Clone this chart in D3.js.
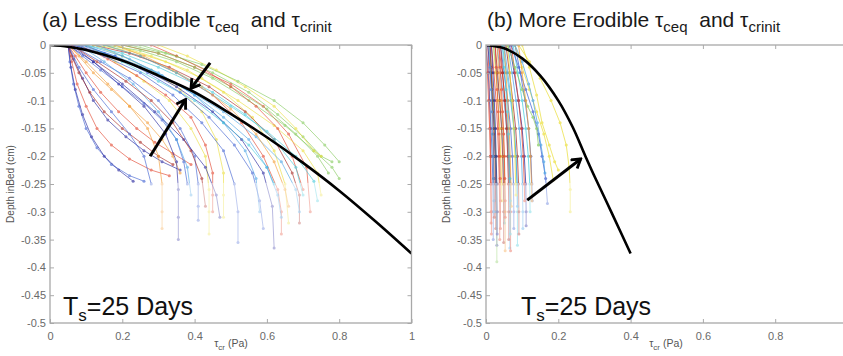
<!DOCTYPE html>
<html>
<head>
<meta charset="utf-8">
<script src="https://cdn.jsdelivr.net/npm/d3@7"></script>
<style>
  body { margin: 0; background: #fff; }
  svg { display: block; font-family: "Liberation Sans", Arial, sans-serif; }
</style>
</head>
<body>
<svg id="chart" width="843" height="356"></svg>
<script>
// tick values
const depthTicks = [0, -0.05, -0.1, -0.15, -0.2, -0.25, -0.3, -0.35, -0.4, -0.45, -0.5];
const tauTicks = [0, 0.2, 0.4, 0.6, 0.8, 1];

// (a) less erodible: profiles [tau, depth], colour index per profile
const lessCurves = [
  [[0.05,0],[0.055,-0.03],[0.065,-0.07],[0.08,-0.11],[0.1,-0.15],[0.13,-0.185],[0.17,-0.215],[0.22,-0.235],[0.26,-0.245]],
  [[0.05,0],[0.06,-0.03],[0.075,-0.07],[0.1,-0.11],[0.13,-0.15],[0.17,-0.18],[0.22,-0.205],[0.28,-0.225],[0.33,-0.235]],
  [[0.05,0],[0.065,-0.025],[0.09,-0.06],[0.12,-0.1],[0.16,-0.135],[0.21,-0.165],[0.26,-0.19],[0.31,-0.21],[0.36,-0.225]],
  [[0.05,0],[0.07,-0.02],[0.1,-0.05],[0.14,-0.085],[0.19,-0.12],[0.24,-0.15],[0.29,-0.175],[0.34,-0.195],[0.39,-0.215]],
  [[0.05,0],[0.058,-0.04],[0.07,-0.08],[0.09,-0.125],[0.115,-0.165],[0.15,-0.2],[0.19,-0.225],[0.23,-0.245]],
  [[0.05,0],[0.08,-0.02],[0.12,-0.05],[0.17,-0.08],[0.22,-0.11],[0.27,-0.14],[0.31,-0.17],[0.34,-0.2],[0.36,-0.23]],
  [[0.05,0],[0.09,-0.02],[0.14,-0.045],[0.2,-0.075],[0.26,-0.105],[0.31,-0.135],[0.35,-0.17],[0.37,-0.21],[0.38,-0.25]],
  [[0.05,0],[0.06,-0.02],[0.08,-0.05],[0.11,-0.085],[0.15,-0.12],[0.2,-0.15],[0.25,-0.175],[0.3,-0.2],[0.34,-0.215]],
  [[0.05,0],[0.1,-0.03],[0.16,-0.07],[0.22,-0.11],[0.27,-0.15],[0.3,-0.2],[0.31,-0.25],[0.31,-0.3],[0.31,-0.33]],
  [[0.06,0],[0.12,-0.03],[0.19,-0.07],[0.26,-0.11],[0.32,-0.16],[0.35,-0.21],[0.355,-0.26],[0.355,-0.31],[0.355,-0.35]],
  [[0.06,0],[0.14,-0.03],[0.22,-0.06],[0.3,-0.1],[0.36,-0.15],[0.4,-0.2],[0.41,-0.25],[0.41,-0.29],[0.41,-0.315]],
  [[0.1,0],[0.18,-0.03],[0.26,-0.065],[0.33,-0.1],[0.39,-0.15],[0.43,-0.2],[0.44,-0.26],[0.44,-0.3],[0.44,-0.34]],
  [[0.08,0],[0.16,-0.025],[0.24,-0.055],[0.32,-0.09],[0.39,-0.13],[0.43,-0.18],[0.45,-0.23],[0.45,-0.27],[0.45,-0.3]],
  [[0.12,0],[0.2,-0.02],[0.28,-0.045],[0.36,-0.08],[0.42,-0.12],[0.46,-0.17],[0.48,-0.23],[0.48,-0.27],[0.48,-0.31]],
  [[0.07,0],[0.15,-0.02],[0.25,-0.05],[0.34,-0.09],[0.42,-0.14],[0.48,-0.19],[0.51,-0.25],[0.52,-0.3],[0.52,-0.355]],
  [[0.1,0],[0.2,-0.02],[0.3,-0.05],[0.4,-0.09],[0.48,-0.14],[0.54,-0.19],[0.57,-0.24],[0.58,-0.3]],
  [[0.06,0],[0.15,-0.015],[0.25,-0.04],[0.35,-0.075],[0.45,-0.12],[0.53,-0.17],[0.59,-0.23],[0.615,-0.29],[0.62,-0.365]],
  [[0.15,0],[0.25,-0.02],[0.35,-0.05],[0.45,-0.09],[0.53,-0.14],[0.59,-0.2],[0.63,-0.26],[0.64,-0.3],[0.64,-0.34]],
  [[0.18,0],[0.28,-0.02],[0.38,-0.045],[0.48,-0.085],[0.56,-0.13],[0.62,-0.19],[0.65,-0.25],[0.66,-0.32]],
  [[0.12,0],[0.22,-0.015],[0.33,-0.04],[0.44,-0.075],[0.54,-0.12],[0.62,-0.17],[0.67,-0.23],[0.69,-0.27],[0.69,-0.32]],
  [[0.2,0],[0.3,-0.015],[0.4,-0.04],[0.5,-0.07],[0.59,-0.11],[0.66,-0.16],[0.71,-0.22],[0.72,-0.3]],
  [[0.05,0],[0.08,-0.04],[0.12,-0.08],[0.17,-0.12],[0.22,-0.16],[0.26,-0.2],[0.28,-0.25]],
  [[0.08,0],[0.15,-0.03],[0.23,-0.07],[0.3,-0.12],[0.35,-0.17],[0.38,-0.22],[0.39,-0.27]],
  [[0.05,0],[0.12,-0.03],[0.2,-0.07],[0.29,-0.12],[0.37,-0.17],[0.43,-0.22],[0.46,-0.27],[0.47,-0.31]],
  [[0.1,0],[0.2,-0.03],[0.3,-0.065],[0.4,-0.1],[0.48,-0.14],[0.55,-0.18],[0.6,-0.22],[0.62,-0.25]],
  [[0.15,0],[0.25,-0.01],[0.35,-0.03],[0.45,-0.06],[0.55,-0.1],[0.65,-0.145],[0.73,-0.19],[0.78,-0.22],[0.8,-0.24]],
  [[0.2,0],[0.3,-0.015],[0.4,-0.04],[0.5,-0.075],[0.6,-0.115],[0.68,-0.16],[0.74,-0.2],[0.77,-0.23]],
  [[0.12,0],[0.22,-0.01],[0.32,-0.03],[0.42,-0.06],[0.52,-0.1],[0.62,-0.145],[0.7,-0.19],[0.74,-0.23],[0.75,-0.27]],
  [[0.1,0],[0.2,-0.015],[0.3,-0.04],[0.4,-0.07],[0.5,-0.11],[0.6,-0.155],[0.68,-0.2],[0.73,-0.245],[0.74,-0.28]],
  [[0.08,0],[0.18,-0.02],[0.28,-0.045],[0.38,-0.08],[0.48,-0.12],[0.57,-0.165],[0.64,-0.21],[0.68,-0.26],[0.69,-0.3]],
  [[0.25,0],[0.35,-0.02],[0.45,-0.05],[0.55,-0.085],[0.63,-0.125],[0.7,-0.165],[0.75,-0.2],[0.78,-0.21]],
  [[0.28,0],[0.35,-0.02],[0.43,-0.045],[0.5,-0.075],[0.57,-0.11],[0.63,-0.15],[0.67,-0.2],[0.7,-0.26]],
  [[0.3,0],[0.38,-0.02],[0.46,-0.045],[0.54,-0.075],[0.62,-0.11],[0.68,-0.15],[0.73,-0.19],[0.75,-0.2]],
  [[0.18,0],[0.26,-0.02],[0.34,-0.045],[0.42,-0.075],[0.5,-0.115],[0.57,-0.16],[0.62,-0.21],[0.65,-0.26],[0.66,-0.29]],
  [[0.15,0],[0.25,-0.02],[0.35,-0.05],[0.45,-0.085],[0.54,-0.125],[0.62,-0.17],[0.68,-0.22],[0.7,-0.27]],
  [[0.09,0],[0.18,-0.02],[0.27,-0.05],[0.36,-0.085],[0.44,-0.13],[0.51,-0.18],[0.56,-0.23],[0.58,-0.28],[0.59,-0.33]],
  [[0.22,0],[0.32,-0.015],[0.42,-0.035],[0.52,-0.065],[0.62,-0.1],[0.7,-0.14],[0.76,-0.18],[0.8,-0.21]],
  [[0.13,0],[0.22,-0.025],[0.31,-0.055],[0.4,-0.09],[0.48,-0.13],[0.55,-0.17],[0.6,-0.22],[0.63,-0.27],[0.64,-0.31]],
  [[0.06,0],[0.13,-0.03],[0.21,-0.065],[0.28,-0.1],[0.34,-0.14],[0.39,-0.19],[0.42,-0.24],[0.43,-0.29]]
];
const lessColours = [1,7,0,7,0,6,1,8,6,0,1,5,7,5,1,2,0,7,5,8,7,1,2,0,3,4,4,5,3,2,4,7,5,6,3,1,4,2,8];

// (b) more erodible
const moreCurves = [
  [[0.005,0],[0.008,-0.05],[0.01,-0.1],[0.012,-0.15],[0.013,-0.2],[0.014,-0.25],[0.015,-0.3],[0.015,-0.34]],
  [[0.01,0],[0.015,-0.05],[0.02,-0.1],[0.023,-0.15],[0.025,-0.2],[0.026,-0.25],[0.027,-0.3],[0.027,-0.33]],
  [[0,0],[0.006,-0.05],[0.01,-0.1],[0.014,-0.15],[0.017,-0.2],[0.019,-0.25],[0.02,-0.3],[0.02,-0.35]],
  [[0.015,0],[0.022,-0.05],[0.028,-0.1],[0.032,-0.15],[0.035,-0.2],[0.037,-0.25],[0.038,-0.3],[0.038,-0.35]],
  [[0.02,0],[0.03,-0.05],[0.038,-0.1],[0.044,-0.15],[0.048,-0.2],[0.05,-0.25],[0.051,-0.3],[0.051,-0.32]],
  [[0.005,0],[0.012,-0.05],[0.018,-0.1],[0.023,-0.15],[0.026,-0.2],[0.028,-0.25],[0.029,-0.3],[0.03,-0.36]],
  [[0.025,0],[0.032,-0.05],[0.038,-0.1],[0.043,-0.15],[0.046,-0.2],[0.048,-0.25],[0.049,-0.3],[0.049,-0.355]],
  [[0.03,0],[0.04,-0.05],[0.05,-0.1],[0.057,-0.15],[0.062,-0.2],[0.065,-0.25],[0.066,-0.3],[0.066,-0.365]],
  [[0.035,0],[0.045,-0.05],[0.053,-0.1],[0.06,-0.15],[0.064,-0.2],[0.067,-0.25],[0.068,-0.3],[0.068,-0.37]],
  [[0.04,0],[0.05,-0.05],[0.06,-0.1],[0.068,-0.15],[0.073,-0.2],[0.076,-0.25],[0.077,-0.3],[0.077,-0.33]],
  [[0.045,0],[0.057,-0.05],[0.068,-0.1],[0.077,-0.15],[0.083,-0.2],[0.086,-0.25],[0.087,-0.3],[0.087,-0.36]],
  [[0.02,0],[0.027,-0.05],[0.033,-0.1],[0.038,-0.15],[0.041,-0.2],[0.043,-0.25],[0.044,-0.28]],
  [[0.05,0],[0.055,-0.05],[0.06,-0.1],[0.064,-0.15],[0.067,-0.2],[0.069,-0.25],[0.07,-0.29]],
  [[0.055,0],[0.065,-0.05],[0.074,-0.1],[0.082,-0.15],[0.087,-0.2],[0.09,-0.25],[0.091,-0.3],[0.091,-0.34]],
  [[0.06,0],[0.072,-0.05],[0.083,-0.1],[0.092,-0.15],[0.098,-0.2],[0.101,-0.25],[0.102,-0.3],[0.102,-0.33]],
  [[0.065,0],[0.078,-0.05],[0.09,-0.1],[0.1,-0.15],[0.106,-0.2],[0.11,-0.25],[0.111,-0.3],[0.111,-0.325]],
  [[0.01,0],[0.015,-0.05],[0.02,-0.1],[0.024,-0.15],[0.027,-0.2],[0.029,-0.25],[0.03,-0.3],[0.03,-0.39]],
  [[0.07,0],[0.08,-0.05],[0.09,-0.1],[0.098,-0.15],[0.103,-0.2],[0.106,-0.25],[0.107,-0.28]],
  [[0.075,0],[0.088,-0.05],[0.1,-0.1],[0.11,-0.15],[0.117,-0.2],[0.121,-0.25],[0.122,-0.3]],
  [[0.08,0],[0.095,-0.05],[0.108,-0.1],[0.118,-0.15],[0.124,-0.2],[0.127,-0.25],[0.128,-0.28]],
  [[0,0],[0.004,-0.05],[0.007,-0.1],[0.01,-0.15],[0.012,-0.2],[0.013,-0.25],[0.014,-0.3],[0.014,-0.32]],
  [[0.03,0],[0.036,-0.05],[0.042,-0.1],[0.047,-0.15],[0.05,-0.2],[0.052,-0.25],[0.053,-0.3],[0.053,-0.37]],
  [[0.05,0],[0.06,-0.05],[0.07,-0.1],[0.078,-0.15],[0.083,-0.2],[0.086,-0.25],[0.087,-0.29]],
  [[0.04,0],[0.046,-0.05],[0.052,-0.1],[0.057,-0.15],[0.06,-0.2],[0.062,-0.25],[0.063,-0.3],[0.063,-0.35]],
  [[0.06,0],[0.066,-0.05],[0.072,-0.1],[0.077,-0.15],[0.08,-0.2],[0.082,-0.25],[0.083,-0.27]],
  [[0.015,0],[0.019,-0.05],[0.023,-0.1],[0.026,-0.15],[0.028,-0.2],[0.03,-0.25],[0.031,-0.3],[0.031,-0.34]],
  [[0.09,0],[0.12,-0.03],[0.15,-0.06],[0.18,-0.1],[0.205,-0.14],[0.222,-0.18],[0.23,-0.22],[0.233,-0.26],[0.233,-0.3]],
  [[0.1,0],[0.12,-0.04],[0.14,-0.09],[0.155,-0.14],[0.175,-0.18],[0.19,-0.21],[0.2,-0.225]],
  [[0.08,0],[0.1,-0.04],[0.12,-0.08],[0.14,-0.12],[0.16,-0.16],[0.175,-0.2],[0.186,-0.243]],
  [[0.07,0],[0.09,-0.04],[0.11,-0.08],[0.13,-0.12],[0.145,-0.16],[0.155,-0.2],[0.165,-0.24],[0.17,-0.285]],
  [[0.08,0],[0.1,-0.03],[0.118,-0.07],[0.13,-0.1],[0.142,-0.14],[0.152,-0.18],[0.16,-0.21],[0.163,-0.23]],
  [[0.06,0],[0.08,-0.04],[0.1,-0.08],[0.115,-0.11],[0.13,-0.13],[0.14,-0.15],[0.145,-0.18]],
  [[0.09,0],[0.1,-0.05],[0.11,-0.1],[0.118,-0.15],[0.123,-0.2],[0.126,-0.25],[0.127,-0.28]],
  [[0.012,0],[0.014,-0.04],[0.016,-0.08],[0.018,-0.12],[0.02,-0.16],[0.021,-0.2],[0.022,-0.24],[0.023,-0.28],[0.023,-0.31]],
  [[0.025,0],[0.028,-0.04],[0.031,-0.08],[0.034,-0.12],[0.036,-0.16],[0.038,-0.2],[0.039,-0.24],[0.04,-0.28],[0.04,-0.33]],
  [[0.008,0],[0.011,-0.04],[0.014,-0.08],[0.016,-0.12],[0.018,-0.16],[0.02,-0.2],[0.021,-0.24],[0.022,-0.28],[0.022,-0.3]],
  [[0.035,0],[0.039,-0.04],[0.043,-0.08],[0.046,-0.12],[0.049,-0.16],[0.051,-0.2],[0.052,-0.24],[0.053,-0.28],[0.053,-0.31]],
  [[0.045,0],[0.05,-0.04],[0.055,-0.08],[0.059,-0.12],[0.062,-0.16],[0.064,-0.2],[0.066,-0.24],[0.067,-0.28],[0.067,-0.34]]
];
const moreColours = [7,8,1,7,3,0,8,2,7,1,3,5,6,8,2,0,4,7,3,1,7,6,2,8,5,0,5,5,5,1,2,4,6,8,7,2,7,3];

// black boundary curves and arrows
const lessBoundary = [[0,0],[0.05,-0.003],[0.1,-0.009],[0.2,-0.028],[0.3,-0.055],[0.4,-0.085],[0.5,-0.124],[0.6,-0.166],[0.7,-0.212],[0.8,-0.262],[0.9,-0.317],[1,-0.375]];
const moreBoundary = [[0,0],[0.05,-0.006],[0.1,-0.024],[0.15,-0.055],[0.2,-0.1],[0.24,-0.148],[0.275,-0.2],[0.3,-0.236],[0.35,-0.305],[0.4,-0.375]];
const lessArrows = [[[0.443,-0.032],[0.39,-0.078]], [[0.277,-0.2],[0.375,-0.098]]];
const moreArrows = [[[0.114,-0.279],[0.262,-0.205]]];

const jet = ["#23239e","#3d5fd2","#4aa4e6","#44cbdc","#84cb5c","#ece03c","#f49c34","#e3432c","#a8241e"];

const svg = d3.select("#chart");

svg.append("defs").append("marker")
  .attr("id", "ah")
  .attr("viewBox", "0 0 12 12")
  .attr("refX", 10).attr("refY", 6)
  .attr("markerWidth", 13).attr("markerHeight", 13)
  .attr("markerUnits", "userSpaceOnUse")
  .attr("orient", "auto")
  .append("path")
  .attr("d", "M2,1 L10,6 L2,11")
  .attr("fill", "none")
  .attr("stroke", "#000")
  .attr("stroke-width", 2.6);

function drawPanel(p) {
  const x = d3.scaleLinear().domain([0, 1]).range([p.left, p.left + 361.5]);
  const y = d3.scaleLinear().domain([-0.5, 0]).range([323, 45]);
  const g = svg.append("g");

  g.append("clipPath").attr("id", p.id + "-clip")
    .append("rect")
    .attr("x", x(0)).attr("y", y(0))
    .attr("width", x(1) - x(0)).attr("height", y(-0.5) - y(0));

  const plot = g.append("g").attr("clip-path", `url(#${p.id}-clip)`);

  const line = d3.line().x(d => x(d[0])).y(d => y(d[1]));

  p.curves.forEach((c, i) => {
    const col = jet[p.colours[i]];
    const s = plot.append("g").attr("opacity", p.alpha);
    s.append("path").attr("d", line(c))
      .attr("fill", "none").attr("stroke", col).attr("stroke-width", 1);
    s.selectAll("circle").data(c).join("circle")
      .attr("cx", d => x(d[0])).attr("cy", d => y(d[1]))
      .attr("r", 1.5).attr("fill", col);
  });

  // faded box behind the label
  plot.append("rect")
    .attr("x", x(p.box[0])).attr("y", y(-0.248))
    .attr("width", x(p.box[1]) - x(p.box[0])).attr("height", y(-0.5) - y(-0.248))
    .attr("fill", "#fff").attr("opacity", 0.5);

  plot.append("path")
    .attr("d", d3.line().x(d => x(d[0])).y(d => y(d[1])).curve(d3.curveCatmullRom.alpha(0.5))(p.boundary))
    .attr("fill", "none").attr("stroke", "#000").attr("stroke-width", 2.6);

  p.arrows.forEach(a => {
    g.append("line")
      .attr("x1", x(a[0][0])).attr("y1", y(a[0][1]))
      .attr("x2", x(a[1][0])).attr("y2", y(a[1][1]))
      .attr("stroke", "#000").attr("stroke-width", 3)
      .attr("marker-end", "url(#ah)");
  });

  // axes, ticks inward
  const axes = [
    d3.axisLeft(y).tickValues(depthTicks).tickFormat(d => d === 0 ? "0" : String(d)).tickSize(-4).tickPadding(4),
    d3.axisRight(y).tickValues(depthTicks).tickFormat("").tickSize(-4),
    d3.axisTop(x).tickValues(tauTicks).tickFormat("").tickSize(-4),
    d3.axisBottom(x).tickValues(tauTicks).tickFormat(d => d > p.maxLabel ? "" : d3.format("")(d)).tickSize(-4).tickPadding(9)
  ];
  const pos = [`translate(${x(0)},0)`, `translate(${x(1)},0)`, `translate(0,${y(0)})`, `translate(0,${y(-0.5)})`];
  axes.forEach((ax, i) => {
    const a = g.append("g").attr("transform", pos[i]).call(ax);
    a.select(".domain").remove();
    a.selectAll("line").attr("stroke", "#aaa");
    a.selectAll("text").attr("fill", "#6a6a6a").style("font-size", "11px")
      .style("font-family", "'Liberation Sans', Arial, sans-serif");
  });

  g.append("rect")
    .attr("x", x(0)).attr("y", y(0))
    .attr("width", x(1) - x(0)).attr("height", y(-0.5) - y(0))
    .attr("fill", "none").attr("stroke", "#a8a8a8").attr("stroke-width", 1.3);

  // title
  const t = g.append("text").attr("x", p.titleX).attr("y", 27)
    .attr("fill", "#1a1a1a").style("font-size", "21px");
  t.append("tspan").text(p.title + " \u03c4");
  t.append("tspan").attr("dy", 5).style("font-size", "15px").text("ceq");
  t.append("tspan").attr("dy", -5).text("\u00a0\u00a0and \u03c4");
  t.append("tspan").attr("dy", 5).style("font-size", "15px").text("crinit");

  // Ts label
  const ts = g.append("text").attr("x", p.tsX).attr("y", 315)
    .attr("fill", "#111").style("font-size", "25px");
  ts.append("tspan").text("T");
  ts.append("tspan").attr("dy", 6).style("font-size", "17px").text("s");
  ts.append("tspan").attr("dy", -6).text("=25 Days");

  // x label
  const xl = g.append("text").attr("x", p.xLabelX).attr("y", 347)
    .attr("text-anchor", "middle").attr("fill", "#555").style("font-size", "10.5px");
  xl.append("tspan").text("\u03c4");
  xl.append("tspan").attr("dy", 3).style("font-size", "8px").text("cr");
  xl.append("tspan").attr("dy", -3).text(" (Pa)");

  // y label
  g.append("text")
    .attr("transform", `translate(${p.left - 36},${y(-0.25)}) rotate(-90)`)
    .attr("text-anchor", "middle").attr("fill", "#555").style("font-size", "10px")
    .text("Depth inBed (cm)");
}

drawPanel({
  id: "less", left: 50, curves: lessCurves, colours: lessColours, alpha: 0.62,
  boundary: lessBoundary, arrows: lessArrows, box: [0.08, 0.79], maxLabel: 1,
  title: "(a) Less Erodible", titleX: 42, tsX: 63, xLabelX: 231
});
drawPanel({
  id: "more", left: 486, curves: moreCurves, colours: moreColours, alpha: 0.72,
  boundary: moreBoundary, arrows: moreArrows, box: [0.0, 0.35], maxLabel: 0.8,
  title: "(b) More Erodible", titleX: 487, tsX: 521, xLabelX: 666
});
</script>
</body>
</html>
